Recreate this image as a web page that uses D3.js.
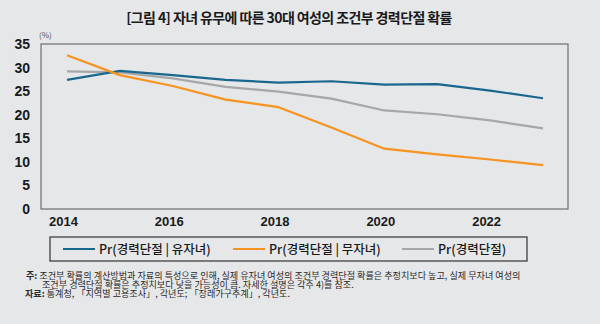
<!DOCTYPE html>
<html>
<head>
<meta charset="utf-8">
<style>
  body { margin: 0; background: #e6e7e9; }
  #chart { display: block; background: #e6e7e9; }
  #chart text { font-family: "Noto Sans CJK KR", "Noto Sans", sans-serif; }
  .num { font-family: "Liberation Sans Narrow", "Liberation Sans", sans-serif !important; font-weight: bold; fill: #1a1a1a; }
  .note { font-size: 9.1px; fill: #2a2a2a; }
</style>
<script src="https://d3js.org/d3.v7.min.js"></script>
</head>
<body>
<svg id="chart"></svg>
<script>
var years = [2014, 2015, 2016, 2017, 2018, 2019, 2020, 2021, 2022, 2023];
var withChild = [27.4, 29.3, 28.4, 27.4, 26.8, 27.1, 26.4, 26.5, 25.1, 23.5];
var noChild = [32.6, 28.4, 26.1, 23.2, 21.6, 17.3, 12.8, 11.6, 10.5, 9.3];
var overall = [29.2, 29.0, 27.7, 25.9, 24.9, 23.4, 20.9, 20.1, 18.8, 17.1];
var seriesNames = ["Pr(경력단절 | 유자녀)", "Pr(경력단절 | 무자녀)", "Pr(경력단절)"];
var seriesColors = ["#19678f", "#f7931e", "#a7a7a7"];
var yTicks = [0, 5, 10, 15, 20, 25, 30, 35];
var xTicks = [2014, 2016, 2018, 2020, 2022];

var width = 600, height = 324;
var box = { left: 41, right: 568, top: 44, bottom: 209 };

var svg = d3.select("#chart").attr("width", width).attr("height", height);

// title
svg.append("text")
    .attr("x", 289).attr("y", 23)
    .attr("text-anchor", "middle")
    .style("font-size", "14px").style("font-weight", "bold")
    .style("letter-spacing", "-0.6px")
    .attr("fill", "#1a1a1a")
    .text("[그림 4] 자녀 유무에 따른 30대 여성의 조건부 경력단절 확률");

var x = d3.scaleLinear().domain([2014, 2023]).range([67, 543]);
var y = d3.scaleLinear().domain([0, 35]).range([box.bottom, box.top]);

// plot frame
svg.append("rect")
    .attr("x", box.left).attr("y", box.top)
    .attr("width", box.right - box.left).attr("height", box.bottom - box.top)
    .attr("fill", "none").attr("stroke", "#6f6f6f").attr("stroke-width", 1.2);

svg.append("text")
    .attr("x", 39).attr("y", 38)
    .style("font-size", "8px").attr("fill", "#555")
    .text("(%)");

var yAxis = svg.append("g")
    .attr("transform", "translate(" + box.left + ",0)")
    .call(d3.axisLeft(y).tickValues(yTicks).tickSize(0).tickPadding(11));
var xAxis = svg.append("g")
    .attr("transform", "translate(0," + box.bottom + ")")
    .call(d3.axisBottom(x).tickValues(xTicks).tickFormat(d3.format("d")).tickSize(0).tickPadding(8));
[yAxis, xAxis].forEach(function(ax) {
  ax.select(".domain").remove();
  ax.selectAll("text").attr("class", "num");
});
yAxis.selectAll("text").style("font-size", "14px");
xAxis.selectAll("text").style("font-size", "13px").attr("dx", -4);

var line = d3.line()
    .x(function(d, i) { return x(years[i]); })
    .y(function(d) { return y(d); });

var series = [withChild, noChild, overall];
svg.selectAll("path.series")
    .data([overall, withChild, noChild])
  .enter().append("path")
    .attr("class", "series")
    .attr("d", line)
    .attr("fill", "none")
    .attr("stroke-width", 2.2)
    .attr("stroke-linejoin", "round")
    .attr("stroke", function(d) { return seriesColors[series.indexOf(d)]; });

// legend
svg.append("rect")
    .attr("x", 50).attr("y", 237).attr("width", 477).attr("height", 24)
    .attr("fill", "none").attr("stroke", "#333").attr("stroke-width", 1.2);

var legendX = [63, 233, 402];
var item = svg.selectAll("g.legend")
    .data(seriesNames)
  .enter().append("g")
    .attr("class", "legend")
    .attr("transform", function(d, i) { return "translate(" + legendX[i] + ",249)"; });
item.append("line")
    .attr("x1", 0).attr("x2", 32)
    .attr("stroke", function(d, i) { return seriesColors[i]; })
    .attr("stroke-width", 2);
item.append("text")
    .attr("x", 36).attr("dy", "0.36em")
    .style("font-size", "12.5px").style("font-weight", 500)
    .attr("fill", "#1a1a1a")
    .text(function(d) { return d; });

// notes
var notes = [
  { x: 26, y: 279, bold: "주:", text: " 조건부 확률의 계산방법과 자료의 특성으로 인해, 실제 유자녀 여성의 조건부 경력단절 확률은 추정치보다 높고, 실제 무자녀 여성의" },
  { x: 42, y: 288, bold: "", text: "조건부 경력단절 확률은 추정치보다 낮을 가능성이 큼. 자세한 설명은 각주 4)를 참조." },
  { x: 25, y: 297, bold: "자료:", text: " 통계청, 「지역별 고용조사」, 각년도; 「장래가구추계」, 각년도." }
];
var noteText = svg.selectAll("text.note")
    .data(notes)
  .enter().append("text")
    .attr("class", "note")
    .attr("x", function(d) { return d.x; })
    .attr("y", function(d) { return d.y; });
noteText.append("tspan").style("font-weight", "bold").text(function(d) { return d.bold; });
noteText.append("tspan").text(function(d) { return d.text; });
</script>
</body>
</html>
